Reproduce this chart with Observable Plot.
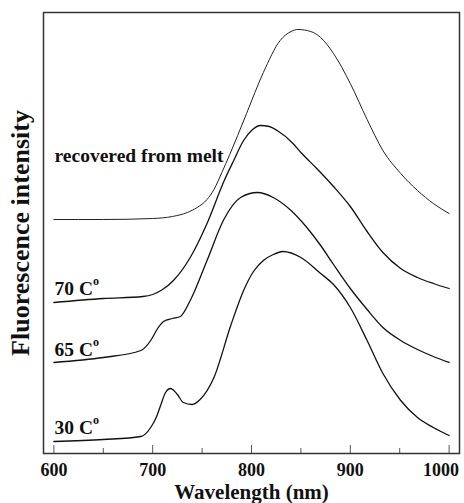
<!DOCTYPE html>
<html><head><meta charset="utf-8">
<script src="https://cdn.jsdelivr.net/npm/d3@7"></script>
<script src="https://cdn.jsdelivr.net/npm/@observablehq/plot@0.6"></script>
<style>body{margin:0;background:#fff}</style>
</head><body><div id="chart"></div>
<script>
// ---- data ----
const meltNm = [600, 650, 700, 720, 735, 745, 755, 762, 770, 778, 786, 795, 812, 829, 840, 847, 860, 870, 883, 900, 917, 933, 951, 968, 984, 1000];
const meltI  = [234, 234, 235, 237, 241, 246, 254, 264, 281, 299, 318, 340, 381, 413, 422, 424, 422, 416, 400, 370, 334, 303, 280, 263, 250, 240];

const t70Nm = [600, 650, 690, 700, 710, 721, 738, 755, 772, 782, 792, 800, 809, 818, 826, 842, 850, 866, 883, 900, 917, 933, 951, 968, 984, 1000];
const t70I  = [151, 155, 157, 159, 164, 173, 196, 230, 272, 293, 313, 323, 328, 327, 323, 310, 301, 285, 267, 247, 222, 201, 185, 176, 170, 165];

const t65Nm = [600, 650, 688, 698, 705, 711, 720, 728, 738, 755, 772, 789, 806, 822, 840, 856, 870, 883, 900, 917, 933, 951, 968, 984, 1000];
const t65I  = [91, 96, 103, 113, 125, 132, 135, 137, 153, 193, 234, 256, 261, 256, 243, 226, 208, 189, 165, 144, 126, 113, 104, 97, 91];

const t30Nm = [600, 650, 688, 698, 704, 708, 713, 718, 725, 731, 740, 748, 762, 779, 792, 802, 812, 822, 832, 850, 870, 883, 900, 917, 933, 951, 968, 984, 1000];
const t30I  = [12, 14, 17, 26, 37, 48, 61, 65, 59, 51, 49, 54, 76, 128, 163, 182, 193, 199, 202, 196, 180, 169, 146, 113, 80, 53, 36, 26, 18];

const seriesNames = ["recovered from melt", "70 C°", "65 C°", "30 C°"];
const labelAt = [ {x: 600.7, y: 298}, {x: 600.7, y: 165}, {x: 600.7, y: 104}, {x: 600.7, y: 26} ];
const majorTicks = [600, 700, 800, 900, 1000];
const minorTicks = [650, 750, 850, 950];
const xLabel = "Wavelength (nm)";
const yLabel = "Fluorescence intensity";

// ---- build tables ----
const seriesData = [[meltNm, meltI], [t70Nm, t70I], [t65Nm, t65I], [t30Nm, t30I]];
const rows = seriesData.flatMap(([nm, I], k) => nm.map((x, i) => ({series: seriesNames[k], nm: x, I: I[i]})));
const labels = seriesNames.map((s, k) => ({text: s, x: labelAt[k].x, y: labelAt[k].y}));

const W = 464, H = 503, mT = 12, mB = 50, mL = 43, mR = 5;
const innerH = H - mT - mB;
const font = "'Liberation Serif', 'Times New Roman', serif";

const chart = Plot.plot({
  width: W, height: H,
  marginTop: mT, marginBottom: mB, marginLeft: mL, marginRight: mR,
  style: {fontFamily: font, fontWeight: "bold", background: "#fff", color: "#111"},
  x: {domain: [589.5, 1010.5], axis: null},
  y: {domain: [0, innerH], axis: null},
  marks: [
    Plot.tickX(majorTicks, {x: d => d, insetTop: innerH - 8, stroke: "#555", strokeWidth: 1}),
    Plot.tickX(minorTicks, {x: d => d, insetTop: innerH - 5, stroke: "#555", strokeWidth: 1}),
    Plot.line(rows.filter(d => d.series === seriesNames[0]), {x: "nm", y: "I", curve: "monotone-x", stroke: "#222", strokeWidth: 1}),
    Plot.line(rows.filter(d => d.series !== seriesNames[0]), {x: "nm", y: "I", z: "series", curve: "monotone-x", stroke: "#111", strokeWidth: 1.3}),
    Plot.frame({stroke: "#333", strokeWidth: 1.5}),
    Plot.text(labels, {x: "x", y: "y", text: "text", textAnchor: "start", lineAnchor: "middle", fontSize: 19.5, fontWeight: "bold", fill: "#111"}),
    Plot.text(majorTicks.slice(0, -1), {x: d => d, text: d => String(d), frameAnchor: "bottom", lineAnchor: "top", dy: 10, fontSize: 18, fontWeight: "bold", fill: "#111"}),
    Plot.text(majorTicks.slice(-1), {x: d => d, text: d => String(d), frameAnchor: "bottom", lineAnchor: "top", textAnchor: "end", dx: 10, dy: 10, fontSize: 18, fontWeight: "bold", fill: "#111"}),
    Plot.text([xLabel], {text: d => d, frameAnchor: "bottom", lineAnchor: "bottom", dy: 45, fontSize: 21, fontWeight: "bold", fill: "#111"}),
    Plot.text([yLabel], {text: d => d, frameAnchor: "left", rotate: -90, textAnchor: "middle", lineAnchor: "bottom", dx: -15, fontSize: 26, fontWeight: "bold", fill: "#111"})
  ]
});

// superscript "o" for the temperature labels
chart.querySelectorAll("text").forEach(t => {
  const s = t.textContent;
  if (/ C°$/.test(s) && t.children.length === 0) {
    t.textContent = s.slice(0, -1);
    const sup = document.createElementNS("http://www.w3.org/2000/svg", "tspan");
    sup.setAttribute("dy", "-0.8em");
    sup.setAttribute("font-size", "0.62em");
    sup.textContent = "o";
    t.appendChild(sup);
  }
});

document.getElementById("chart").appendChild(chart);
</script></body></html>
